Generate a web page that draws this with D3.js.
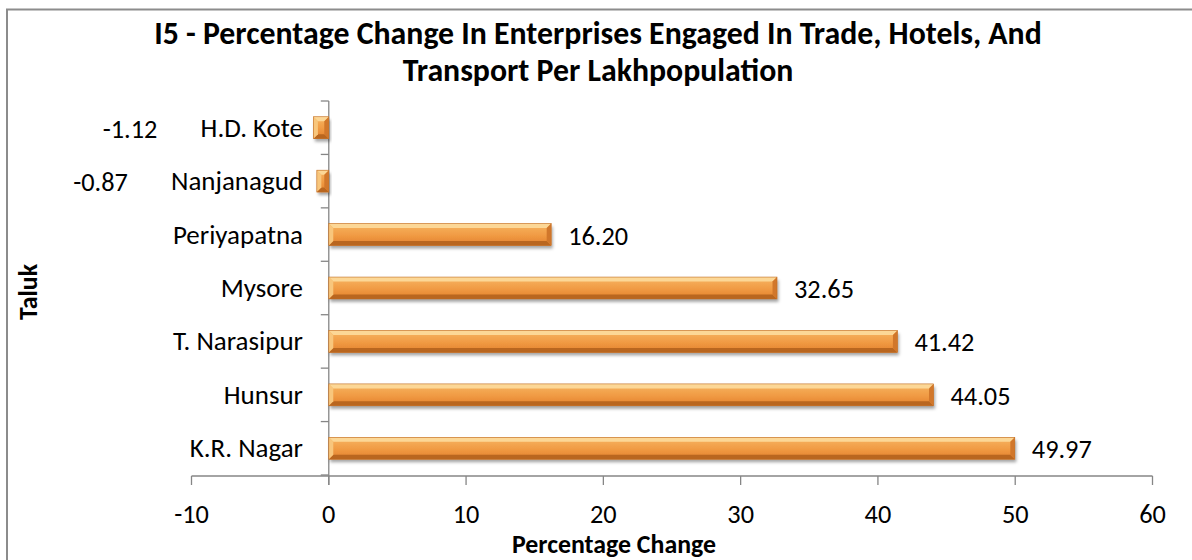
<!DOCTYPE html>
<html><head><meta charset="utf-8">
<script src="https://cdn.jsdelivr.net/npm/d3@7/dist/d3.min.js"></script>
<style>
html,body{margin:0;padding:0;background:#fff;}
svg{display:block;font-family:Carlito, Lato, "Open Sans", sans-serif;}
</style></head>
<body>
<svg id="chart" width="1192" height="560"></svg>
<script>
const categories = ["H.D. Kote","Nanjanagud","Periyapatna","Mysore","T. Narasipur","Hunsur","K.R. Nagar"];
const values = [-1.12,-0.87,16.20,32.65,41.42,44.05,49.97];
const valueLabels = ["-1.12","-0.87","16.20","32.65","41.42","44.05","49.97"];
const xTicks = [-10,0,10,20,30,40,50,60];
const titleLines = ["I5 - Percentage Change In Enterprises Engaged In Trade, Hotels, And","Transport Per Lakhpopulation"];
const xTitle = "Percentage Change";
const yTitle = "Taluk";

const svg = d3.select("#chart");
const defs = svg.append("defs");
const f = defs.append("filter").attr("id","sh").attr("x","-10%").attr("y","-30%").attr("width","130%").attr("height","190%");
f.append("feDropShadow").attr("dx",1.5).attr("dy",3).attr("stdDeviation",1.8).attr("flood-color","#000").attr("flood-opacity",0.35);
const g1 = defs.append("linearGradient").attr("id","face").attr("x1",0).attr("y1",0).attr("x2",0).attr("y2",1);
g1.append("stop").attr("offset","0%").attr("stop-color","#f7b562");
g1.append("stop").attr("offset","55%").attr("stop-color","#f09a43");
g1.append("stop").attr("offset","100%").attr("stop-color","#e3802c");

// measuring helper: font size that makes `str` span `target` px
function fitSize(str, target, weight){
  const t = svg.append("text").attr("font-size",20).attr("font-weight",weight||"normal").text(str);
  const w = t.node().getComputedTextLength();
  t.remove();
  return 20*target/w;
}
const titleSize = fitSize(titleLines[0], 888, "bold");
const catSize = fitSize("T. Narasipur", 130);
const numSize = fitSize("49.97", 60);
const axTitleSize = fitSize(xTitle, 204, "bold");

// border
svg.append("rect").attr("x",7).attr("y",9.5).attr("width",1220).attr("height",600)
  .attr("fill","none").attr("stroke","#8c8c8c").attr("stroke-width",2);

const x = d3.scaleLinear().domain([-10,60]).range([191.5,1152.5]);
const y = d3.scaleBand().domain(categories).range([101,475]).paddingInner(0.59).paddingOuter(0.295);
const step = y.step();

// title
titleLines.forEach((t,i)=>{
  svg.append("text").attr("x",598).attr("y",44+i*37).attr("text-anchor","middle")
    .attr("font-size",titleSize).attr("font-weight","bold").attr("fill","#000").text(t);
});

// x axis
const xa = svg.append("g").attr("transform","translate(0,476)");
xa.append("line").attr("x1",x(-10)).attr("x2",x(60)).attr("stroke","#868686").attr("stroke-width",1.3);
xa.selectAll("line.t").data(xTicks).join("line").attr("class","t")
  .attr("x1",d=>x(d)).attr("x2",d=>x(d)).attr("y1",0).attr("y2",9).attr("stroke","#868686").attr("stroke-width",1.3);
xa.selectAll("text").data(xTicks).join("text")
  .attr("x",d=>x(d)).attr("y",47).attr("text-anchor","middle").attr("font-size",numSize).attr("fill","#000").text(d=>d);

// y axis
const ya = svg.append("g");
ya.append("line").attr("x1",x(0)).attr("x2",x(0)).attr("y1",101).attr("y2",485).attr("stroke","#868686").attr("stroke-width",1.3);
const bounds = d3.range(categories.length+1).map(i=>101+i*step);
ya.selectAll("line.t").data(bounds).join("line").attr("class","t")
  .attr("x1",x(0)-8).attr("x2",x(0)).attr("y1",d=>d).attr("y2",d=>d).attr("stroke","#868686").attr("stroke-width",1.3);
ya.selectAll("text").data(categories).join("text")
  .attr("x",303).attr("y",d=>y(d)+y.bandwidth()/2+9).attr("text-anchor","end")
  .attr("font-size",catSize).attr("fill","#000").text(d=>d);

// bars
const data = categories.map((c,i)=>({c, v:values[i], l:valueLabels[i], i}));
const bars = svg.append("g");
data.forEach(d=>{
  const x0 = x(Math.min(0,d.v)), x1 = x(Math.max(0,d.v));
  const y0 = y(d.c), y1 = y0 + y.bandwidth();
  const b = Math.min(4.5, (x1-x0)/2);
  const g = bars.append("g");
  g.append("rect").attr("x",x0).attr("y",y0).attr("width",x1-x0).attr("height",y1-y0)
    .attr("fill","url(#face)").attr("filter","url(#sh)");
  const poly = (pts,fill)=>g.append("polygon").attr("points",pts.map(p=>p.join(",")).join(" ")).attr("fill",fill);
  poly([[x0,y0],[x1,y0],[x1-b,y0+b],[x0+b,y0+b]],"#fcd796");
  poly([[x0,y1],[x1,y1],[x1-b,y1-b],[x0+b,y1-b]],"#b9661f");
  poly([[x0,y0],[x0+b,y0+b],[x0+b,y1-b],[x0,y1]],"#f8c67c");
  poly([[x1,y0],[x1-b,y0+b],[x1-b,y1-b],[x1,y1]],"#d1772b");
  g.append("rect").attr("x",x0).attr("y",y0).attr("width",x1-x0).attr("height",y1-y0)
    .attr("fill","none").attr("stroke","#c06d24").attr("stroke-width",0.6);
});

// value labels (negative labels sit far left of the bars, as in the reference)
const negLabelOffsets = [-156, -189];
svg.append("g").selectAll("text").data(data).join("text")
  .attr("x",d=> d.v>=0 ? x(d.v)+17 : x(d.v)+negLabelOffsets[d.i])
  .attr("y",d=>y(d.c)+y.bandwidth()/2+10)
  .attr("text-anchor",d=>d.v>=0?"start":"end")
  .attr("font-size",numSize).attr("fill","#000").text(d=>d.l);

// axis titles
svg.append("text").attr("x",614).attr("y",553).attr("text-anchor","middle")
  .attr("font-size",axTitleSize).attr("font-weight","bold").text(xTitle);
svg.append("text").attr("transform","translate(36.5,292) rotate(-90)").attr("text-anchor","middle")
  .attr("font-size",axTitleSize).attr("font-weight","bold").text(yTitle);
</script>
</body></html>
